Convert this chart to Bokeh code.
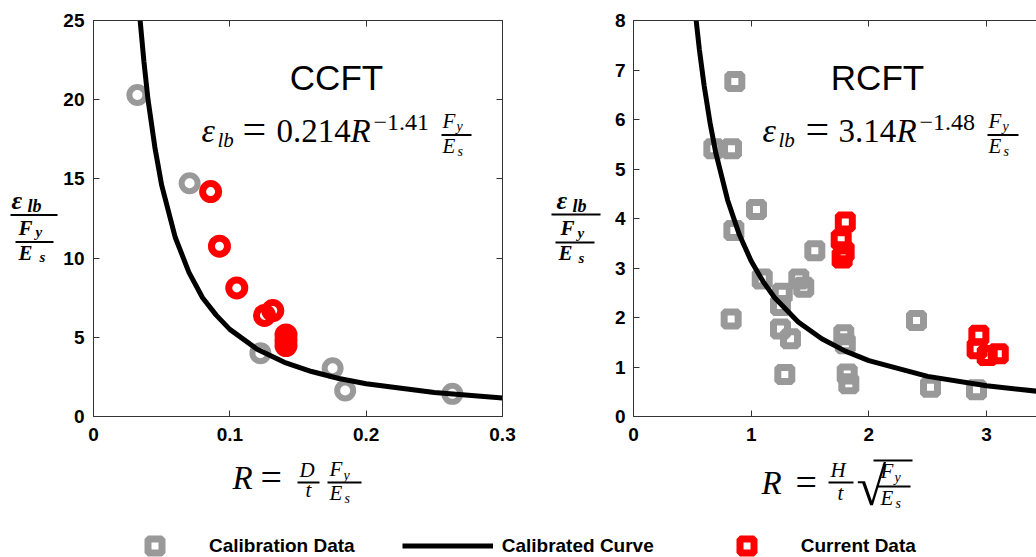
from bokeh.plotting import figure
from bokeh.models import (Range1d, FixedTicker, LinearAxis, Label, BoxAnnotation,
                          Legend, LegendItem)
from bokeh.layouts import row, column
from bokeh.embed import file_html
from bokeh.resources import INLINE

# ---------------- data ----------------
# CCFT panel
ccft_cal_R = [0.0322, 0.0705, 0.1224, 0.1754, 0.1846, 0.2632]
ccft_cal_e = [20.3, 14.73, 4.0, 3.05, 1.64, 1.43]
ccft_cur_R = [0.0859, 0.0924, 0.1051, 0.1254, 0.1315, 0.1412, 0.1412, 0.1412]
ccft_cur_e = [14.2, 10.75, 8.12, 6.38, 6.69, 5.15, 4.8, 4.48]
ccft_curve_R = [0.034, 0.037, 0.04, 0.045, 0.05, 0.06, 0.07, 0.08, 0.09, 0.10,
                0.12, 0.14, 0.16, 0.18, 0.20, 0.25, 0.30]
ccft_curve_e = [25.2, 22.4, 20.0, 17.0, 14.6, 11.3, 9.1, 7.5, 6.4, 5.5,
                4.25, 3.42, 2.84, 2.40, 2.07, 1.51, 1.17]

# RCFT panel
rcft_cal_R = [0.861, 0.683, 0.833, 1.045, 0.853, 1.541, 1.094, 1.405, 1.447, 1.264,
              1.249, 0.830, 1.249, 1.334, 1.787, 1.800, 1.286, 1.816, 1.830, 2.405,
              2.524, 2.915]
rcft_cal_e = [6.77, 5.41, 5.41, 4.18, 3.76, 3.35, 2.78, 2.78, 2.61, 2.49,
              2.24, 1.97, 1.77, 1.57, 1.65, 1.47, 0.85, 0.86, 0.66, 1.94,
              0.59, 0.54]
rcft_cur_R = [1.80, 1.765, 1.79, 1.773, 2.935, 2.92, 3.006, 3.10]
rcft_cur_e = [3.93, 3.57, 3.33, 3.20, 1.64, 1.37, 1.23, 1.27]
rcft_curve_R = [0.52, 0.56, 0.60, 0.65, 0.70, 0.80, 0.90, 1.0, 1.1, 1.2, 1.4, 1.6,
                1.8, 2.0, 2.5, 3.0, 3.43]
rcft_curve_e = [8.27, 7.41, 6.69, 5.94, 5.32, 4.37, 3.67, 3.14, 2.73, 2.40, 1.91,
                1.57, 1.32, 1.13, 0.81, 0.62, 0.51]

ccft_xticks = [0, 0.1, 0.2, 0.3]
ccft_xlabels = ["0", "0.1", "0.2", "0.3"]
ccft_yticks = [0, 5, 10, 15, 20, 25]
rcft_xticks = [0, 1, 2, 3]
rcft_yticks = [0, 1, 2, 3, 4, 5, 6, 7, 8]

legend_labels = ["Calibration Data", "Calibrated Curve", "Current Data"]
legend_dummy = [float("nan")]

GREY = "#999999"
RED = "#ff0000"
AXC = "#333333"
SANS = "Liberation Sans"
SERIF = "Liberation Serif"
K_SHIFT = 0.36   # empirical baseline correction for Label text


def style_axis(ax, ticks, labels=None, show_labels=True):
    ax.ticker = FixedTicker(ticks=ticks)
    if labels is not None:
        ax.major_label_overrides = {t: l for t, l in zip(ticks, labels)}
    ax.major_tick_in = 6
    ax.major_tick_out = 0
    ax.minor_tick_in = 0
    ax.minor_tick_out = 0
    ax.axis_line_color = AXC
    ax.major_tick_line_color = AXC
    ax.axis_line_width = 1
    ax.major_label_text_font = SANS
    ax.major_label_text_font_style = "bold"
    ax.major_label_text_color = "black"
    ax.major_label_text_font_size = "19px"
    if not show_labels:
        ax.major_label_text_color = None
        ax.major_label_text_font_size = "1px"
        ax.major_label_standoff = 0


def make_fig(xr, yr, width, left, right, outline):
    p = figure(width=width, height=455, x_range=Range1d(*xr), y_range=Range1d(*yr),
               toolbar_location=None, output_backend="svg",
               min_border_left=left, min_border_right=right,
               min_border_top=20, min_border_bottom=39)
    p.grid.visible = False
    p.outline_line_color = AXC if outline else None
    return p


def carrier(w, h):
    c = figure(width=w, height=h, x_range=Range1d(0, 1), y_range=Range1d(0, 1),
               toolbar_location=None, output_backend="svg",
               x_axis_location=None, y_axis_location=None, min_border=0)
    c.grid.visible = False
    c.outline_line_color = None
    return c


class Canvas:
    """Places annotations in page pixel coordinates on a figure whose frame
    starts at page x = ox and whose frame bottom is at page y = oy + h."""

    def __init__(self, fig, ox, oy, h):
        self.fig, self.ox, self.oy, self.h = fig, ox, oy, h

    def put(self, px, py, txt, size, style="italic", font=SERIF, align="left"):
        py = py - K_SHIFT * size
        self.fig.add_layout(Label(x=px - self.ox, y=self.oy + self.h - py,
                                  x_units="screen", y_units="screen",
                                  text=txt, text_font=font,
                                  text_font_size=f"{size}px",
                                  text_font_style=style, text_align=align,
                                  text_baseline="alphabetic", text_color="black"))

    def bar(self, x0, x1, y, th=2):
        yy = self.oy + self.h - y
        self.fig.add_layout(BoxAnnotation(left=x0 - self.ox, right=x1 - self.ox,
                                          bottom=yy - th / 2, top=yy + th / 2,
                                          left_units="screen", right_units="screen",
                                          top_units="screen", bottom_units="screen",
                                          fill_color="black", fill_alpha=1,
                                          line_color=None))


XL_H = 64          # height of the x-label strips (page y 455 -> 519)
ROW_H = 455 + XL_H

# ---------------- CCFT ----------------
f1 = make_fig((0, 0.3), (0, 25), 460, 32, 18, True)
style_axis(f1.xaxis[0], ccft_xticks, ccft_xlabels)
f1.xaxis[0].major_label_standoff = 11
style_axis(f1.yaxis[0], ccft_yticks)
f1.yaxis[0].major_label_standoff = 9
top1 = LinearAxis()
style_axis(top1, ccft_xticks, show_labels=False)
f1.add_layout(top1, "above")
right1 = LinearAxis()
style_axis(right1, ccft_yticks, show_labels=False)
f1.add_layout(right1, "right")

f1.scatter(ccft_cal_R, ccft_cal_e, marker="circle", size=16, fill_color=None,
           line_color=GREY, line_width=6)
f1.scatter(ccft_cur_R, ccft_cur_e, marker="circle", size=16, fill_color=None,
           line_color=RED, line_width=7)
f1.line(ccft_curve_R, ccft_curve_e, line_color="black", line_width=5)

c1 = Canvas(f1, 92, 20, 396)
c1.put(335, 90, "CCFT", 35, style="normal", font=SANS, align="center")
c1.put(200, 142, "ε", 34)
c1.put(216, 147, "lb", 21)
c1.put(241, 144, "=", 42, style="normal")
c1.put(275, 142, "0.214", 33, style="normal")
c1.put(349, 142, "R", 33)
c1.put(372, 131, "−1.41", 24, style="normal")
c1.put(441, 128, "F", 21)
c1.put(455, 131, "y", 14)
c1.bar(440, 470, 134.5)
c1.put(441, 153, "E", 21)
c1.put(456, 156, "s", 14)

# y label carrier (left)
yl1 = carrier(60, ROW_H)
cy1 = Canvas(yl1, 0, 0, ROW_H)
cy1.put(11, 209, "ε", 26, style="bold italic")
cy1.put(27, 212, "lb", 18, style="bold italic")
cy1.bar(10, 57, 214.5)
cy1.put(18, 235, "F", 21, style="bold italic")
cy1.put(35, 237, "y", 15, style="bold italic")
cy1.bar(15, 53, 241.5)
cy1.put(18, 260, "E", 21, style="bold italic")
cy1.put(39, 262, "s", 15, style="bold italic")

# x label carrier (left); its frame is aligned with f1's frame (x = 92)
xl1 = carrier(460, XL_H)
cx1 = Canvas(xl1, 92, 455, XL_H)
cx1.put(231, 489, "R", 33)
cx1.put(259, 490, "=", 38, style="normal")
cx1.put(298, 477, "D", 21)
cx1.bar(296, 318, 482)
cx1.put(304, 497, "t", 21)
cx1.put(328, 476, "F", 21)
cx1.put(342, 480, "y", 14)
cx1.bar(326, 360, 482)
cx1.put(328, 500, "E", 21)
cx1.put(343, 503, "s", 14)

# ---------------- RCFT ----------------
x_end = 403 / 117.67
f2 = make_fig((0, x_end), (0, 8), 433, 30, 0, False)
style_axis(f2.xaxis[0], rcft_xticks)
f2.xaxis[0].major_label_standoff = 11
style_axis(f2.yaxis[0], rcft_yticks)
f2.yaxis[0].major_label_standoff = 8
top2 = LinearAxis()
style_axis(top2, rcft_xticks, show_labels=False)
f2.add_layout(top2, "above")

f2.scatter(rcft_cal_R, rcft_cal_e, marker="square", size=14, fill_color=None,
           line_color=GREY, line_width=7)
f2.scatter(rcft_cur_R, rcft_cur_e, marker="square", size=14, fill_color=None,
           line_color=RED, line_width=7)
f2.line(rcft_curve_R, rcft_curve_e, line_color="black", line_width=5)

c2 = Canvas(f2, 633, 20, 396)
c2.put(877, 90, "RCFT", 35, style="normal", font=SANS, align="center")
c2.put(762, 142, "ε", 34)
c2.put(778, 147, "lb", 21)
c2.put(805, 144, "=", 42, style="normal")
c2.put(838, 142, "3.14", 33, style="normal")
c2.put(896, 142, "R", 33)
c2.put(919, 131, "−1.48", 24, style="normal")
c2.put(988, 128, "F", 21)
c2.put(1002, 131, "y", 14)
c2.bar(987, 1018, 134.5)
c2.put(988, 153, "E", 21)
c2.put(1003, 156, "s", 14)

# y label carrier (right)
yl2 = carrier(83, ROW_H)
cy2 = Canvas(yl2, 520, 0, ROW_H)
cy2.put(556, 209, "ε", 26, style="bold italic")
cy2.put(572, 212, "lb", 18, style="bold italic")
cy2.bar(551, 600, 214)
cy2.put(560, 235, "F", 21, style="bold italic")
cy2.put(577, 238, "y", 15, style="bold italic")
cy2.bar(555, 594, 242)
cy2.put(558, 260, "E", 21, style="bold italic")
cy2.put(578, 263, "s", 15, style="bold italic")

# x label carrier (right); its frame is aligned with f2's frame (x = 633)
xl2 = carrier(433, XL_H)
cx2 = Canvas(xl2, 633, 455, XL_H)
cx2.put(761, 494, "R", 33)
cx2.put(795, 495, "=", 38, style="normal")
cx2.put(830, 477, "H", 21)
cx2.bar(828, 853, 482)
cx2.put(837, 500, "t", 21)
cx2.put(856, 506, "√", 54, style="normal")
cx2.bar(873, 912, 460)
cx2.put(880, 478, "F", 21)
cx2.put(894, 482, "y", 14)
cx2.bar(877, 910, 486)
cx2.put(880, 505, "E", 21)
cx2.put(895, 508, "s", 14)

# ---------------- legend ----------------
LEG_H = 557 - ROW_H
lf = carrier(1036, LEG_H)
g1 = lf.scatter(x=legend_dummy, y=legend_dummy, marker="square", size=14,
                fill_color=None, line_color=GREY, line_width=7)
g2 = lf.line(x=legend_dummy, y=legend_dummy, line_color="black", line_width=5)
g3 = lf.scatter(x=legend_dummy, y=legend_dummy, marker="square", size=14,
                fill_color=None, line_color=RED, line_width=7)
leg = Legend(items=[LegendItem(label=legend_labels[0], renderers=[g1]),
                    LegendItem(label=legend_labels[1], renderers=[g2]),
                    LegendItem(label=legend_labels[2], renderers=[g3])],
             orientation="horizontal", location=(109, LEG_H - (545.5 - ROW_H) - 17.5),
             glyph_width=91, glyph_height=35, label_standoff=9, spacing=47,
             padding=0, margin=0, border_line_color=None,
             background_fill_alpha=0,
             label_text_font=SANS, label_text_font_style="bold",
             label_text_font_size="19px", label_text_color="black")
lf.add_layout(leg, "center")

layout = column(row(yl1, column(f1, xl1), yl2, column(f2, xl2)), lf)
open("out.html", "w").write(file_html(layout, INLINE))
